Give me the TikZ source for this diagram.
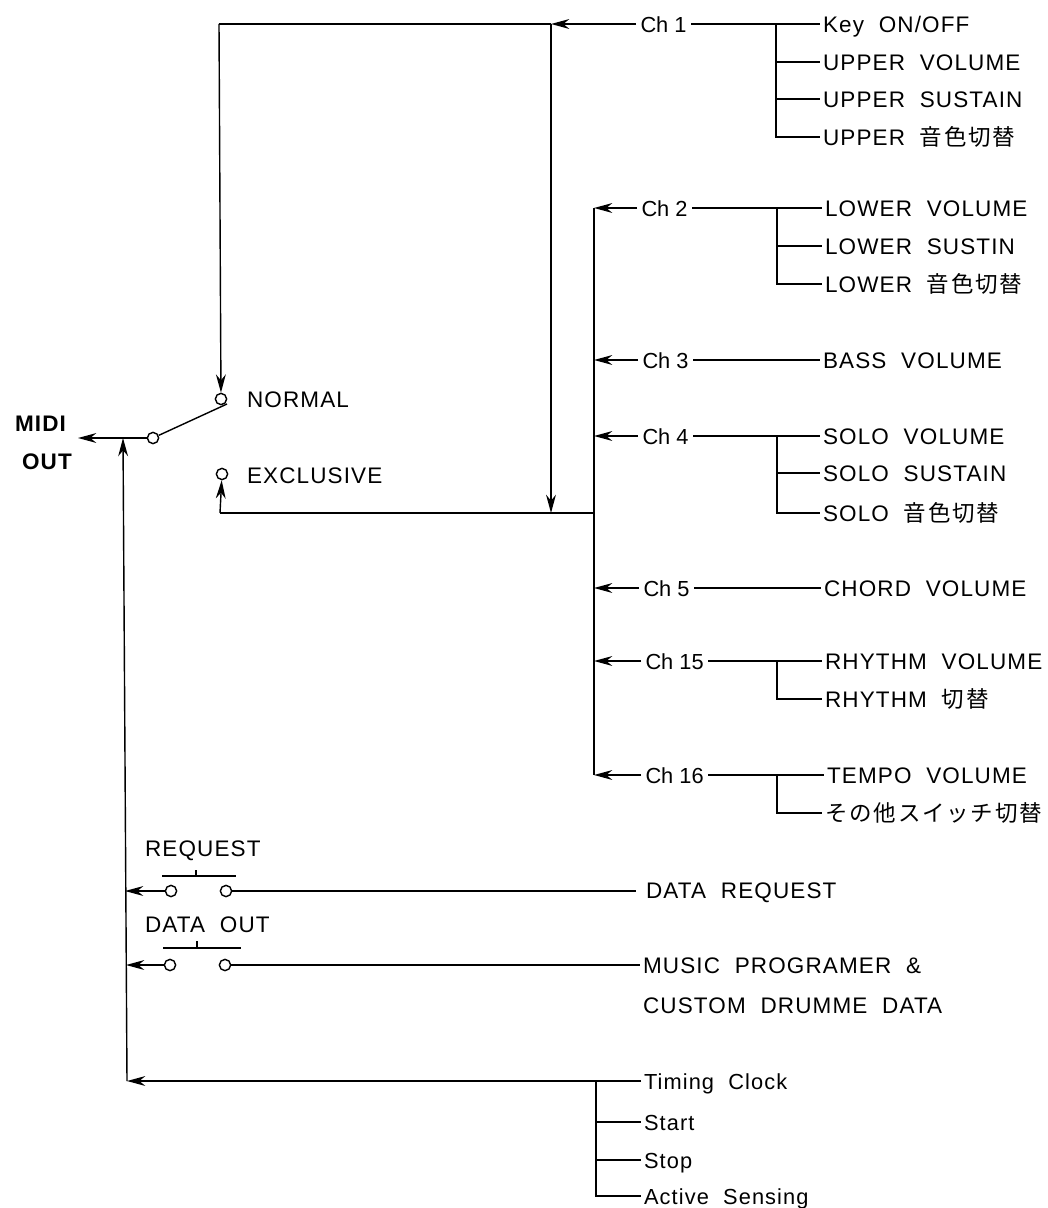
\documentclass[tikz,border=0pt]{standalone}
\usepackage{fontspec}
\setmainfont{Liberation Sans}[LetterSpace=5,WordSpace=2]
\newfontfamily\smallfont{Liberation Sans}[LetterSpace=5,WordSpace=2]
\newfontfamily\chfont{Liberation Sans}
\newfontfamily\cjk{Noto Sans CJK JP}[LetterSpace=8]
\usepackage{xcolor}
\usetikzlibrary{arrows.meta}
\tikzset{
  lbl/.style={anchor=west, inner xsep=2pt, inner ysep=0pt, text height=11.5pt, text depth=0pt, font=\fontsize{16}{18}\selectfont},
  chlbl/.style={lbl, inner xsep=3pt, font=\fontsize{15.5}{18}\chfont},
  msglbl/.style={lbl, font=\fontsize{15.5}{18}\smallfont},
  outlbl/.style={lbl, anchor=center, font=\fontsize{16}{18}\bfseries},
  contact/.style={circle, draw, line width=1pt, fill=white, minimum size=8pt, inner sep=0pt},
  wire/.style={draw, line width=1pt},
  feed/.style={draw, line width=1pt, -{Stealth[length=13pt,width=7pt]}},
}
\begin{document}
\begin{tikzpicture}[x=0.025cm, y=-0.025cm]
    \useasboundingbox (0,0) rectangle (1047,1208);

    % MIDI output and selector
    \node[outlbl] (midi) at (40.5,423) {MIDI};
    \node[outlbl] (out) at (47,461) {OUT};
    \coordinate (midiend) at (78,438);
    \coordinate (merge) at (123,438);
    \node[contact] (common) at (153,438) {};
    \node[contact] (normal) at (221,399) {};
    \node[contact] (excl) at (222,474) {};
    \node[lbl] (normallbl) at (244,399) {NORMAL};
    \node[lbl] (excllbl) at (244,475) {EXCLUSIVE};
    \coordinate (armend) at (227,404);
    \draw[feed] (common) -- (midiend);
    \draw[wire] (common) -- (armend);

    % Junctions of the two buses
    \coordinate (topleft) at (219,24);
    \coordinate (jtop) at (551,24);
    \coordinate (jbot) at (551,513);
    \coordinate (botleft) at (220,513);
    \coordinate (bus) at (594,513);
    \coordinate (bustop) at (594,208);
    \coordinate (busend) at (594,775);
    \draw[wire] (jtop) -- (topleft);
    \draw[feed] (topleft) -- (normal);
    \draw[feed] (jtop) -- (jbot);
    \draw[wire] (bus) -- (botleft);
    \draw[feed] (botleft) -- (excl);
    \draw[wire] (bustop) -- (busend);

    % Ch 1
    \node[chlbl] (ch1) at (636,24) {Ch 1};
    \node[lbl] (keyon) at (820,24) {Key ON/OFF};
    \node[lbl] (uppervol) at (820,62) {UPPER VOLUME};
    \node[lbl] (uppersus) at (820,99) {UPPER SUSTAIN};
    \node[lbl] (uppertone) at (820,137) {UPPER {\cjk 音色切替}};
    \coordinate (b1) at (776,24);
    \draw[feed] (ch1) -- (jtop);
    \draw[wire] (ch1) -- (keyon);
    \draw[wire] (b1) |- (uppervol);
    \draw[wire] (b1) |- (uppersus);
    \draw[wire] (b1) |- (uppertone);

    % Ch 2
    \node[chlbl] (ch2) at (637,208) {Ch 2};
    \node[lbl] (lowervol) at (822,208) {LOWER VOLUME};
    \node[lbl] (lowersus) at (822,246) {LOWER SUSTIN};
    \node[lbl] (lowertone) at (822,284) {LOWER {\cjk 音色切替}};
    \coordinate (b2) at (777,208);
    \draw[feed] (ch2) -- (bustop);
    \draw[wire] (ch2) -- (lowervol);
    \draw[wire] (b2) |- (lowersus);
    \draw[wire] (b2) |- (lowertone);

    % Ch 3
    \node[chlbl] (ch3) at (638,360) {Ch 3};
    \node[lbl] (bassvol) at (820,360) {BASS VOLUME};
    \coordinate (bus3) at (594,360);
    \draw[feed] (ch3) -- (bus3);
    \draw[wire] (ch3) -- (bassvol);

    % Ch 4
    \node[chlbl] (ch4) at (638,436) {Ch 4};
    \node[lbl] (solovol) at (820,436) {SOLO VOLUME};
    \node[lbl] (solosus) at (820,473) {SOLO SUSTAIN};
    \node[lbl] (solotone) at (820,513) {SOLO {\cjk 音色切替}};
    \coordinate (bus4) at (594,436);
    \coordinate (b4) at (777,436);
    \draw[feed] (ch4) -- (bus4);
    \draw[wire] (ch4) -- (solovol);
    \draw[wire] (b4) |- (solosus);
    \draw[wire] (b4) |- (solotone);

    % Ch 5
    \node[chlbl] (ch5) at (639,588) {Ch 5};
    \node[lbl] (chordvol) at (821,588) {CHORD VOLUME};
    \coordinate (bus5) at (594,588);
    \draw[feed] (ch5) -- (bus5);
    \draw[wire] (ch5) -- (chordvol);

    % Ch 15
    \node[chlbl] (ch15) at (641,661) {Ch 15};
    \node[lbl] (rhythmvol) at (822,661) {RHYTHM VOLUME};
    \node[lbl] (rhythmsel) at (822,699) {RHYTHM {\cjk 切替}};
    \coordinate (bus15) at (594,661);
    \coordinate (b15) at (777,661);
    \draw[feed] (ch15) -- (bus15);
    \draw[wire] (ch15) -- (rhythmvol);
    \draw[wire] (b15) |- (rhythmsel);

    % Ch 16
    \node[chlbl] (ch16) at (641,775) {Ch 16};
    \node[lbl] (tempovol) at (824,775) {TEMPO VOLUME};
    \node[lbl] (othersel) at (822,813) {\cjk その他スイッチ切替};
    \coordinate (b16) at (777,775);
    \draw[feed] (ch16) -- (busend);
    \draw[wire] (ch16) -- (tempovol);
    \draw[wire] (b16) |- (othersel);

    % Request and data out switches
    \coordinate (reqend) at (125,891);
    \coordinate (dataend) at (126,965);
    \node[lbl] (reqlbl) at (142,848) {REQUEST};
    \node[lbl] (datalbl) at (142,924) {DATA OUT};
    \node[contact] (req1) at (171,891) {};
    \node[contact] (req2) at (226,891) {};
    \node[contact] (data1) at (170,965) {};
    \node[contact] (data2) at (225,965) {};
    \node[lbl] (reqsrc) at (643,890) {DATA REQUEST};
    \node[lbl] (musicsrc) at (640,965) {MUSIC PROGRAMER \&};
    \node[lbl] (drumsrc) at (640,1005) {CUSTOM DRUMME DATA};
    \coordinate (reqwire) at (636,891);
    \coordinate (reqbarl) at (162,876);
    \coordinate (reqbarr) at (236,876);
    \coordinate (reqbarm) at (196,876);
    \coordinate (reqtick) at (196,870);
    \coordinate (databarl) at (163,948);
    \coordinate (databarr) at (241,948);
    \coordinate (databarm) at (197,948);
    \coordinate (datatick) at (197,941);
    \draw[feed] (req1) -- (reqend);
    \draw[wire] (req2) -- (reqwire);
    \draw[wire] (reqbarl) -- (reqbarr);
    \draw[wire] (reqbarm) -- (reqtick);
    \draw[feed] (data1) -- (dataend);
    \draw[wire] (data2) -- (musicsrc);
    \draw[wire] (databarl) -- (databarr);
    \draw[wire] (databarm) -- (datatick);

    % Realtime messages
    \node[msglbl] (timing) at (641,1081) {Timing Clock};
    \node[msglbl] (startlbl) at (641,1122) {Start};
    \node[msglbl] (stoplbl) at (641,1160) {Stop};
    \node[msglbl] (active) at (641,1196) {Active Sensing};
    \coordinate (rtend) at (127,1081);
    \coordinate (rtb) at (596,1081);
    \draw[feed] (timing) -- (rtend);
    \draw[wire] (rtb) |- (startlbl);
    \draw[wire] (rtb) |- (stoplbl);
    \draw[wire] (rtb) |- (active);
    \draw[feed] (rtend) -- (merge);
\end{tikzpicture}
\end{document}
